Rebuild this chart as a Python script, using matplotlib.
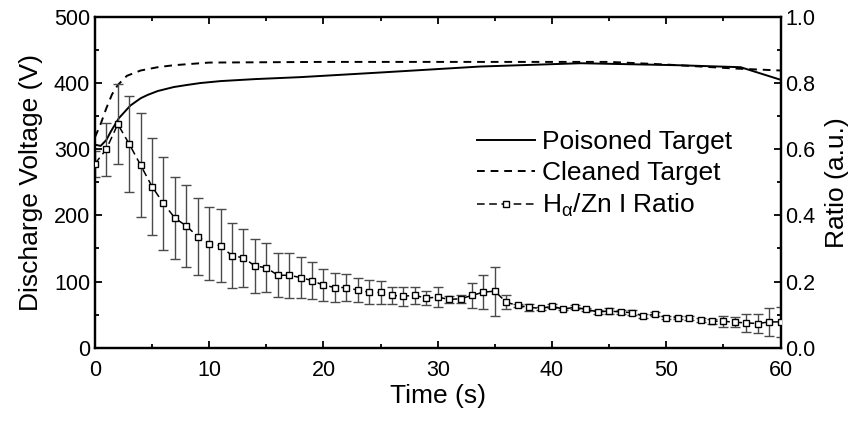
import matplotlib.pyplot as plt
from matplotlib.ticker import MultipleLocator

plt.rcParams['font.family'] = ['Liberation Sans', 'DejaVu Sans']

# voltage curves (V) vs time (s)
t_poisoned = [0, 0.5, 1.0, 1.4, 2.1, 3.1, 4.0, 4.6, 5.5, 6.9, 8.0, 9.2, 11, 14, 18, 25, 33.7, 42.5, 51, 56.5, 60]
v_poisoned = [307, 305, 314, 327, 347, 366, 377, 382, 388, 394, 397, 400, 403, 406, 409, 416, 425, 430, 427, 424, 405]

t_cleaned = [0, 0.5, 1.0, 1.5, 2.0, 2.8, 4.0, 5.5, 6.9, 10, 20, 45, 50, 56, 60]
v_cleaned = [318, 338, 362, 383, 397, 411, 419, 424, 427, 431, 432, 432, 428, 422, 419]

# H-alpha / Zn I ratio, one point per second
t_ratio = list(range(61))
ratio = [0.556, 0.600, 0.676, 0.616, 0.552, 0.487, 0.436, 0.392, 0.368, 0.336,
         0.315, 0.308, 0.278, 0.272, 0.247, 0.242, 0.219, 0.219, 0.212, 0.203,
         0.189, 0.182, 0.182, 0.174, 0.168, 0.167, 0.158, 0.156, 0.158, 0.150,
         0.153, 0.146, 0.148, 0.158, 0.168, 0.171, 0.137, 0.128, 0.122, 0.119,
         0.125, 0.117, 0.122, 0.116, 0.108, 0.111, 0.108, 0.106, 0.096, 0.101,
         0.091, 0.091, 0.090, 0.083, 0.080, 0.080, 0.077, 0.075, 0.073, 0.078,
         0.078]
ratio_err = [0.040, 0.080, 0.121, 0.145, 0.157, 0.146, 0.142, 0.125, 0.124, 0.117,
             0.110, 0.110, 0.099, 0.088, 0.081, 0.074, 0.066, 0.068, 0.063, 0.055,
             0.049, 0.045, 0.040, 0.036, 0.036, 0.034, 0.027, 0.029, 0.025, 0.022,
             0.030, 0.010, 0.012, 0.038, 0.052, 0.074, 0.021, 0.005, 0.010, 0.005,
             0.006, 0.004, 0.006, 0.004, 0.006, 0.008, 0.006, 0.007, 0.005, 0.006,
             0.004, 0.004, 0.005, 0.006, 0.008, 0.016, 0.015, 0.028, 0.028, 0.042,
             0.045]

fig, ax = plt.subplots(figsize=(8.55, 4.23), dpi=100)
fig.subplots_adjust(left=0.111, right=0.913, top=0.960, bottom=0.178)
ax2 = ax.twinx()

l1, = ax.plot(t_poisoned, v_poisoned, color='black', lw=1.4, label='Poisoned Target')
l2, = ax.plot(t_cleaned, v_cleaned, color='black', lw=1.4, ls=(0, (4, 3)), label='Cleaned Target')

ax2.errorbar(t_ratio, ratio, yerr=ratio_err, fmt='none', ecolor='#4a4a4a',
             elinewidth=1.0, capsize=3.5, capthick=1.0, zorder=2)
l3, = ax2.plot(t_ratio, ratio, color='black', lw=1.1, ls=(0, (5, 3)),
               marker='s', ms=4.5, mfc='white', mec='black', mew=1.0,
               label=r'H$_\mathregular{α}$/Zn I Ratio', zorder=3)

ax.set_xlim(0, 60)
ax.set_ylim(0, 500)
ax2.set_ylim(0, 1.0)

ax.xaxis.set_major_locator(MultipleLocator(10))
ax.xaxis.set_minor_locator(MultipleLocator(5))
ax.yaxis.set_major_locator(MultipleLocator(100))
ax.yaxis.set_minor_locator(MultipleLocator(50))
ax2.yaxis.set_major_locator(MultipleLocator(0.2))
ax2.yaxis.set_minor_locator(MultipleLocator(0.1))
ax2.yaxis.set_major_formatter(plt.FormatStrFormatter('%.1f'))

ax.tick_params(which='both', direction='in', top=True, right=False, labelsize=15.5, width=1.3)
ax.tick_params(which='major', length=5)
ax.tick_params(which='minor', length=3)
ax.tick_params(axis='x', pad=9)
ax2.tick_params(which='both', direction='in', labelsize=15.5, width=1.3)
ax2.tick_params(which='major', length=5)
ax2.tick_params(which='minor', length=3)

for a in (ax, ax2):
    for s in a.spines.values():
        s.set_linewidth(1.6)

ax.set_xlabel('Time (s)', fontsize=19, labelpad=2)
ax.set_ylabel('Discharge Voltage (V)', fontsize=19, labelpad=8)
ax2.set_ylabel('Ratio (a.u.)', fontsize=19, labelpad=7)

ax2.legend([l1, l2, l3], [l1.get_label(), l2.get_label(), l3.get_label()],
           loc='upper left', bbox_to_anchor=(0.542, 0.69), frameon=False,
           fontsize=19, handlelength=2.2, handletextpad=0.27, labelspacing=0.26,
           borderaxespad=0)

plt.savefig('out.png', dpi=100)
